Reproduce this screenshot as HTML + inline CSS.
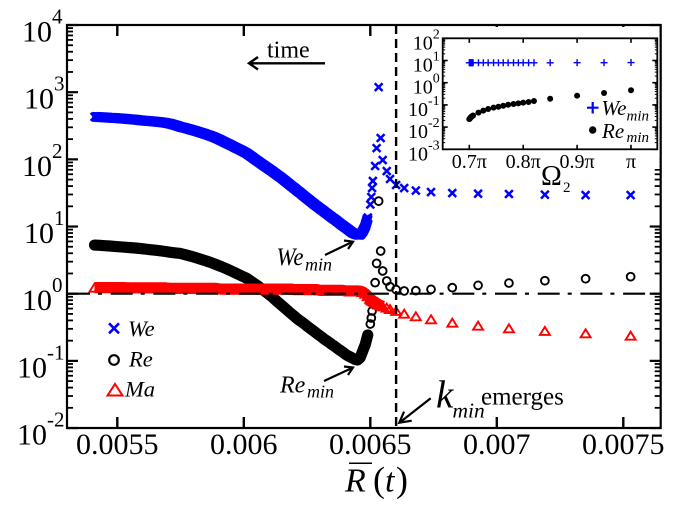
<!DOCTYPE html>
<html>
<head>
<meta charset="utf-8">
<title>Chart</title>
<style>
html,body{margin:0;padding:0;background:#fff;}
svg{display:block;filter:blur(0.35px);}
text{font-family:"Liberation Serif",serif;fill:#000;}
.it{font-style:italic;}
</style>
</head>
<body>
<svg id="chart" width="681" height="511" viewBox="0 0 681 511" xmlns="http://www.w3.org/2000/svg">
<rect width="681" height="511" fill="#fff"/>
<g id="main-axes"></g>
<g id="we-series"></g>
<g id="re-series"></g>
<g id="ma-series"></g>
<g id="inset"></g>

<g>
<text x="267" y="57.3" font-size="24">time</text>
<path d="M325 63.3H250M258 57L249 63.3L258 69.5" fill="none" stroke="#000" stroke-width="2.4"/>
</g>
<g>
<text class="it" x="276.5" y="265" font-size="25" textLength="27" lengthAdjust="spacingAndGlyphs">We</text>
<text class="it" x="305" y="270.7" font-size="18">min</text>
<path d="M325 255L351 242.5M344 240.5L353 241.7L348 249" fill="none" stroke="#000" stroke-width="2.2"/>
</g>
<g>
<text class="it" x="280" y="392.3" font-size="24">Re</text>
<text class="it" x="307" y="397.7" font-size="18">min</text>
<path d="M324 381L352 368M344 366.5L353 367.5L348 375" fill="none" stroke="#000" stroke-width="2.2"/>
</g>
<g>
<text class="it" x="436" y="407.7" font-size="39">k</text>
<text class="it" x="452.5" y="417.3" font-size="21.5">min</text>
<text x="481" y="404.3" font-size="25">emerges</text>
<path d="M430.7 398.3L401 421.5M411.7 420.7L399.3 422.7L404 411.7" fill="none" stroke="#000" stroke-width="2.2"/>
</g>
<g>
<path d="M109 323.3L119 333.3M119 323.3L109 333.3" stroke="#00f" stroke-width="2.6" fill="none"/>
<text class="it" x="128" y="336" font-size="22.5">We</text>
<circle cx="114" cy="360" r="4.8" fill="none" stroke="#000" stroke-width="2.2"/>
<text class="it" x="129" y="366.7" font-size="22.5">Re</text>
<path d="M107.5 395.5L115 384L122.5 395.5Z" fill="none" stroke="#f00" stroke-width="2"/>
<text class="it" x="125" y="396.7" font-size="22.5">Ma</text>
</g>
<g>
<line x1="349" x2="372" y1="463.3" y2="463.3" stroke="#000" stroke-width="1.5"/>
<text class="it" x="345" y="491.7" font-size="34">R</text>
<text x="373" y="491.7" font-size="36">(</text>
<text class="it" x="385" y="491.7" font-size="34">t</text>
<text x="396" y="491.7" font-size="36">)</text>
</g>
</svg>
<script>
/* Main chart data */
const radiusValues = [
0.00541,0.00543,0.00545,0.00547,0.00549,0.00551,0.00553,0.00555,0.00557,0.00559,
0.00561,0.00563,0.00565,0.00567,0.00569,0.00571,0.00573,0.00575,0.00577,0.00579,
0.00581,0.00583,0.00585,0.00587,0.00589,0.00591,0.00593,0.00595,0.00597,0.00599,
0.00601,0.00603,0.00605,0.00607,0.00609,0.00611,0.00613,0.00615,0.00617,0.00619,
0.00620,0.00621,0.00622,0.00623,0.00624,0.00625,0.00626,0.00627,0.00628,0.00629,
0.00630,0.00631,0.00632,0.00633,0.00634,0.00635,0.00636,0.00637,0.00638,0.00639,
0.00640,0.00641,0.00642,0.00643,0.00644,0.00645,0.00646,0.00647,0.00648,0.00649,0.00650,
0.006504,0.006507,0.00651,0.006519,0.006525,0.006533,0.006541,0.006549,0.006565,0.006578,
0.006602,0.006634,0.00668,0.00674,0.006824,0.006926,0.007048,0.00719,0.007351,0.007529];
const weValues = [
430,426,422,416,412,408,402,396,390,382,
376,371,365,358,350,338,322,304,292,278,
264,250,237,223,208,192,176,162,148,136,
124,110,97,86,76.2,67.6,59.5,52.5,45.7,39.7,
37.2,34.6,32.4,30.2,28.1,26.2,24.5,22.8,21.3,20,
18.7,17.6,16.4,15.4,14.4,13.5,12.7,11.9,11.1,10.4,
9.77,9.19,8.58,8.04,7.74,7.55,7.55,8.43,10.1,13.6,21.3,
27.5,37.5,47.7,79.6,147,1190,208,97.7,67,51,
41.5,37.4,34.3,32.6,31.5,30.8,30.5,29.8,29.4,29.4];
const reValues = [
5.3,5.25,5.18,5.13,5.06,4.99,4.92,4.85,4.79,4.71,
4.62,4.53,4.44,4.35,4.25,4.13,4.05,3.97,3.79,3.62,
3.44,3.26,3.09,2.91,2.72,2.54,2.36,2.18,2.01,1.85,
1.71,1.52,1.35,1.19,1.04,0.909,0.778,0.67,0.576,0.495,
0.462,0.427,0.40,0.377,0.353,0.33,0.308,0.289,0.271,0.253,
0.238,0.223,0.208,0.197,0.185,0.173,0.164,0.153,0.144,0.136,
0.127,0.12,0.115,0.11,0.105,0.103,0.112,0.14,0.175,0.243,0.354,
0.435,0.552,0.703,1.46,2.83,23.9,4.32,2.18,1.55,1.27,
1.15,1.10,1.11,1.16,1.23,1.33,1.44,1.56,1.67,1.79];
const maValues = [
1.23,1.23,1.23,1.23,1.23,1.23,1.23,1.22,1.22,1.22,
1.22,1.22,1.22,1.22,1.22,1.20,1.20,1.20,1.20,1.20,
1.20,1.20,1.20,1.20,1.20,1.17,1.17,1.17,1.17,1.17,
1.17,1.17,1.17,1.17,1.17,1.17,1.17,1.17,1.17,1.17,
1.15,1.15,1.15,1.15,1.15,1.15,1.15,1.15,1.15,1.15,
1.12,1.12,1.12,1.12,1.12,1.12,1.12,1.12,1.12,1.12,
1.10,1.10,1.10,1.10,1.10,1.10,1.09,1.06,1.0,0.92,0.84,
0.82,0.80,0.78,0.75,0.72,0.69,0.67,0.65,0.62,0.59,
0.553,0.504,0.461,0.416,0.37,0.334,0.305,0.279,0.257,0.237];
const referenceLevel = 1;
const kMinRadius = 0.006602;
const xTickValues = [0.0055,0.006,0.0065,0.007,0.0075];
const xTickLabels = ["0.0055","0.006","0.0065","0.007","0.0075"];
const yExponents = [-2,-1,0,1,2,3,4];
/* Radius at which each series stops being so densely sampled that its markers merge */
const weMergedUpTo = 0.00649;
const reMergedUpTo = 0.00649;
const maMergedUpTo = 0.006549;

/* Inset data */
const omegaValues = [0.7,0.701,0.702,0.703,0.704,0.705,0.706,0.707,0.717,0.726,0.735,0.745,0.754,0.763,0.772,0.782,0.791,0.8,0.81,0.82,0.85,0.9,0.95,1];
const weMinValues = [7.9,7.9,7.9,7.9,7.9,7.9,7.9,7.9,7.9,7.9,7.9,7.9,7.9,7.9,7.9,7.9,7.9,7.9,7.9,7.9,7.9,8,8,8.1];
const reMinValues = [0.023,0.0245,0.026,0.028,0.0295,0.0305,0.032,0.0335,0.0447,0.055,0.065,0.075,0.083,0.092,0.102,0.11,0.117,0.126,0.135,0.15,0.19,0.26,0.344,0.455];
const insetXTickValues = [0.7,0.8,0.9,1];
const insetXTickLabels = ["0.7π","0.8π","0.9π","π"];
const insetYExponents = [-3,-2,-1,0,1,2];

const NS = "http://www.w3.org/2000/svg";
function make(parent, tag, attrs, txt) {
  const el = document.createElementNS(NS, tag);
  for (const k in attrs) el.setAttribute(k, attrs[k]);
  if (txt !== undefined) el.textContent = txt;
  parent.appendChild(el);
  return el;
}

/* Main axis functions */
const xMain = v => 117.3 + (v - 0.0055) * 253000;
const yMain = v => 293.7 - 67.17 * Math.log10(v);
const mainLeft = 67, mainRight = 660.7, mainTop = 25, mainBottom = 428;

const mainAxes = document.getElementById("main-axes");
const frame = make(mainAxes, "rect", {x: mainLeft, y: mainTop, width: mainRight - mainLeft, height: mainBottom - mainTop, fill: "none", stroke: "#000", "stroke-width": 2.2});



xTickValues.forEach((v, i) => {
  const x = xMain(v);
  const bottomTick = make(mainAxes, "line", {x1: x, x2: x, y1: mainBottom, y2: mainBottom - 11, stroke: "#000", "stroke-width": 2.4});
  
  
  const topTick = make(mainAxes, "line", {x1: x, x2: x, y1: mainTop, y2: mainTop + 11, stroke: "#000", "stroke-width": 2.4});
  
  
  const label = make(mainAxes, "text", {x: x, y: 454, "font-size": 30, "text-anchor": "middle"}, xTickLabels[i]);
  
  
});

yExponents.forEach(e => {
  const v = Math.pow(10, e), y = yMain(v);
  [[mainLeft, 1], [mainRight, -1]].forEach(side => {
    const major = make(mainAxes, "line", {x1: side[0], x2: side[0] + side[1] * 11, y1: y, y2: y, stroke: "#000", "stroke-width": 2.2});
    
    
    if (e < 4) {
      for (let m = 2; m < 10; m++) {
        const ym = yMain(m * v);
        const minor = make(mainAxes, "line", {x1: side[0], x2: side[0] + side[1] * 6, y1: ym, y2: ym, stroke: "#000", "stroke-width": 1.8});
        
        
      }
    }
  });
  const bx = e < 0 ? 17 : (e === 1 || e === 3 ? 24 : 22);
  const base = make(mainAxes, "text", {x: bx, y: y + 16.5, "font-size": 30}, "10");
  
  
  const sup = make(mainAxes, "text", {x: bx + 30, y: y - 1.5, "font-size": 21}, String(e));
  
  
});

/* Path through the densely sampled stretch of a series */
function mergedPath(values, limit) {
  let d = "";
  values.forEach((v, i) => {
    if (radiusValues[i] <= limit) d += (d ? "L" : "M") + xMain(radiusValues[i]) + " " + yMain(v);
  });
  return d;
}

/* Series */
const weGroup = document.getElementById("we-series");
[[-2.5, -2.5], [2.5, -2.5], [-2.5, 2.5], [2.5, 2.5]].forEach(shift => {
  const weBand = make(weGroup, "path", {d: mergedPath(weValues, weMergedUpTo), fill: "none", stroke: "#00f", "stroke-width": 5, "stroke-linejoin": "round", transform: `translate(${shift[0]} ${shift[1]})`});
  
  
});
weValues.forEach((v, i) => {
  const x = xMain(radiusValues[i]), y = yMain(v), s = 3.9;
  const mark = make(weGroup, "path", {d: `M${x-s} ${y-s}L${x+s} ${y+s}M${x+s} ${y-s}L${x-s} ${y+s}`, stroke: "#00f", "stroke-width": 2.5, fill: "none"});
  
  
});
const reGroup = document.getElementById("re-series");
const reBand = make(reGroup, "path", {d: mergedPath(reValues, reMergedUpTo), fill: "none", stroke: "#000", "stroke-width": 11.2, "stroke-linejoin": "round", "stroke-linecap": "round"});


reValues.forEach((v, i) => {
  const mark = make(reGroup, "circle", {cx: xMain(radiusValues[i]), cy: yMain(v), r: 3.9, fill: "none", stroke: "#000", "stroke-width": 1.9});
  
  
});
const maGroup = document.getElementById("ma-series");
const maBand = make(maGroup, "path", {d: mergedPath(maValues, maMergedUpTo), fill: "none", stroke: "#f00", "stroke-width": 11.2, "stroke-linejoin": "round"});


maValues.forEach((v, i) => {
  const x = xMain(radiusValues[i]), y = yMain(v);
  const mark = make(maGroup, "path", {d: `M${x-5} ${y+4}L${x} ${y-4}L${x+5} ${y+4}Z`, fill: "none", stroke: "#f00", "stroke-width": 1.9});
  
  
});

const refLine = make(document.getElementById("ma-series"), "line", {x1: 68, x2: mainRight, y1: yMain(referenceLevel), y2: yMain(referenceLevel), stroke: "#000", "stroke-width": 2.2, "stroke-dasharray": "22 8 4 8.7"});


const kLine = make(document.getElementById("ma-series"), "line", {x1: xMain(kMinRadius), x2: xMain(kMinRadius), y1: mainTop, y2: mainBottom, stroke: "#000", "stroke-width": 2.4, "stroke-dasharray": "9 5"});



/* Inset */
const xIn = v => 469.3 + (v - 0.7) * 539;
const yIn = v => 82.7 - 22.2 * Math.log10(v);
const inLeft = 442.7, inRight = 657.3, inTop = 38.3, inBottom = 149.3;
const inset = document.getElementById("inset");
const cover = make(inset, "rect", {x: 407, y: 27, width: 252.5, height: 142, fill: "#fff"});


const inFrame = make(inset, "rect", {x: inLeft, y: inTop, width: inRight - inLeft, height: inBottom - inTop, fill: "none", stroke: "#000", "stroke-width": 1.8});



insetXTickValues.forEach((v, i) => {
  const x = xIn(v);
  const t1 = make(inset, "line", {x1: x, x2: x, y1: inBottom, y2: inBottom - 4.5, stroke: "#000", "stroke-width": 1.6});
  
  
  const t2 = make(inset, "line", {x1: x, x2: x, y1: inTop, y2: inTop + 4.5, stroke: "#000", "stroke-width": 1.6});
  
  
  const lab = make(inset, "text", {x: x, y: 168, "font-size": 20, "text-anchor": "middle"}, insetXTickLabels[i]);
  
  
});
insetYExponents.forEach(e => {
  const v = Math.pow(10, e), y = yIn(v);
  [[inLeft, 1], [inRight, -1]].forEach(side => {
    const major = make(inset, "line", {x1: side[0], x2: side[0] + side[1] * 5, y1: y, y2: y, stroke: "#000", "stroke-width": 1.6});
    
    
    if (e < 2) {
      for (let m = 2; m < 10; m++) {
        const ym = yIn(m * v);
        const minor = make(inset, "line", {x1: side[0], x2: side[0] + side[1] * 2.5, y1: ym, y2: ym, stroke: "#000", "stroke-width": 1});
        
        
      }
    }
  });
  const bx = e < 0 ? 408 : 412.7;
  const base = make(inset, "text", {x: bx, y: y + 11, "font-size": 20}, "10");
  
  
  const sup = make(inset, "text", {x: bx + 20, y: y, "font-size": 14}, String(e));
  
  
});
weMinValues.forEach((v, i) => {
  const x = xIn(omegaValues[i]), y = yIn(v), s = 3.5;
  const mark = make(inset, "path", {d: `M${x-s} ${y}H${x+s}M${x} ${y-s}V${y+s}`, stroke: "#00f", "stroke-width": 1.4, fill: "none"});
  
  
});
reMinValues.forEach((v, i) => {
  const mark = make(inset, "circle", {cx: xIn(omegaValues[i]), cy: yIn(v), r: 3, fill: "#000"});
  
  
});

const addInsetText = (name, attrs, txt) => {
  const t = make(inset, "text", attrs, txt);
  
  
  return t;
};
addInsetText('omega-symbol', {x: 541, y: 185, "font-size": 28}, "Ω");
addInsetText('omega-subscript', {x: 563, y: 192, "font-size": 15}, "2");
const legPlus = make(inset, "path", {d: "M587 107.7H598.5M592.7 102V113.5", stroke: "#00f", "stroke-width": 2.2, fill: "none"});


addInsetText('inset-legend-we-label', {x: 601.5, y: 115, "font-size": 21, "font-style": "italic"}, "We");
addInsetText('inset-legend-we-subscript', {x: 626.5, y: 120.7, "font-size": 15, "font-style": "italic"}, "min");
const legDot = make(inset, "circle", {cx: 592.7, cy: 130, r: 3.7, fill: "#000"});


addInsetText('inset-legend-re-label', {x: 602, y: 138, "font-size": 21, "font-style": "italic"}, "Re");
addInsetText('inset-legend-re-subscript', {x: 626.5, y: 142, "font-size": 15, "font-style": "italic"}, "min");
</script>
</body>
</html>
